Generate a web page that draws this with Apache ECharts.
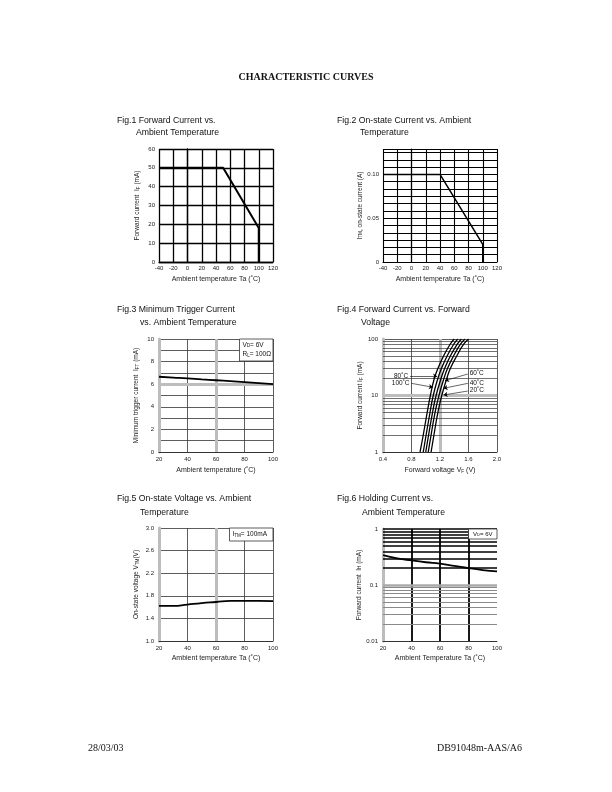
<!DOCTYPE html>
<html>
<head>
<meta charset="utf-8">
<script src="https://cdn.jsdelivr.net/npm/echarts@6/dist/echarts.min.js"></script>
<style>
  html, body { margin: 0; padding: 0; background: #fff; }
  #page { width: 612px; height: 792px; }
</style>
</head>
<body>
<div id="page"></div>
<script>
// Fig.1 forward current vs ambient temperature
const fig1Ta = [-40, 50, 100, 100];
const fig1If = [50, 50, 18, 0];

// Fig.2 on-state current vs ambient temperature
const fig2Ta = [-40, 40, 100, 100];
const fig2Itm = [0.10, 0.10, 0.02, 0];

// Fig.3 minimum trigger current
const fig3Ta = [20, 30, 40, 50, 60, 70, 80, 90, 100];
const fig3Ift = [6.66, 6.59, 6.52, 6.43, 6.35, 6.27, 6.19, 6.10, 6.0];

// Fig.4 forward current vs forward voltage (one list of VF per temperature)
const fig4If = [1, 2, 5, 10, 20, 30, 50, 80, 100];
const fig4Vf100 = [0.92, 0.965, 1.02, 1.065, 1.12, 1.17, 1.25, 1.34, 1.40];
const fig4Vf80 = [0.965, 1.005, 1.06, 1.105, 1.17, 1.22, 1.30, 1.39, 1.45];
const fig4Vf60 = [1.0, 1.04, 1.095, 1.145, 1.215, 1.265, 1.345, 1.44, 1.50];
const fig4Vf40 = [1.035, 1.075, 1.13, 1.185, 1.255, 1.305, 1.39, 1.485, 1.55];
const fig4Vf20 = [1.075, 1.115, 1.17, 1.225, 1.295, 1.345, 1.435, 1.53, 1.60];

// Fig.5 on-state voltage
const fig5Ta = [20, 30, 40, 50, 60, 70, 80, 90, 100];
const fig5Vtm = [1.62, 1.62, 1.645, 1.67, 1.69, 1.71, 1.71, 1.71, 1.705];

// Fig.6 holding current
const fig6Ta = [20, 30, 40, 50, 60, 70, 80, 90, 100];
const fig6Ih = [0.34, 0.30, 0.275, 0.255, 0.24, 0.22, 0.20, 0.185, 0.175];

// log grid values
const decadeSteps = [2, 3, 4, 5, 6, 7, 8, 9];

const FONT = '"Liberation Sans", Arial, sans-serif';
const SERIF = '"Liberation Serif", "Times New Roman", serif';
const GRAY = '#bdbdbd';
const DARK = '#333';

const zip = (xs, ys) => xs.map((x, i) => [x, ys[i]]);
const vLine = (v, color, width) => ({ xAxis: v, lineStyle: { color: color, width: width, type: 'solid' } });
const hLine = (v, color, width) => ({ yAxis: v, lineStyle: { color: color, width: width, type: 'solid' } });

const subRich = { s: { fontSize: 4.6, fontFamily: FONT, verticalAlign: 'bottom', padding: [0, 0, 0, 0] } };

const labelStyle = (extra) => Object.assign({ fontSize: 6, color: '#222', fontFamily: FONT }, extra);
const xName = (text, gap) => ({
  name: text, nameLocation: 'middle', nameGap: gap,
  nameTextStyle: { fontSize: 7, color: '#222', fontFamily: FONT, rich: subRich }
});
const yName = (text, gap) => ({
  name: text, nameLocation: 'middle', nameGap: gap,
  nameTextStyle: { fontSize: 6.5, color: '#222', fontFamily: FONT, rich: subRich }
});

function gridSeries(idx, lines) {
  return {
    type: 'line', xAxisIndex: idx, yAxisIndex: idx, data: [], z: 1, silent: true,
    markLine: { silent: true, symbol: 'none', animation: false, label: { show: false }, data: lines }
  };
}
function curve(idx, data, width) {
  return {
    type: 'line', xAxisIndex: idx, yAxisIndex: idx, data: data, z: 5,
    showSymbol: false, smooth: false, silent: true,
    lineStyle: { color: '#000', width: width }
  };
}

const grids = [
  { left: 159, top: 149, width: 114, height: 113 },
  { left: 383, top: 149, width: 114, height: 113 },
  { left: 159, top: 339, width: 114, height: 113 },
  { left: 383, top: 339, width: 114, height: 113 },
  { left: 159, top: 528, width: 114, height: 113 },
  { left: 383, top: 529, width: 114, height: 112 }
];

const xAxes = [
  Object.assign({
    gridIndex: 0, type: 'value', min: -40, max: 120, interval: 20,
    axisLine: { lineStyle: { color: '#000', width: 1.3 } }, axisTick: { show: false },
    splitLine: { lineStyle: { color: '#000', width: 1.3 } },
    axisLabel: labelStyle({ margin: 3 })
  }, xName('Ambient temperature Ta (˚C)', 14)),
  Object.assign({
    gridIndex: 1, type: 'value', min: -40, max: 120, interval: 20,
    axisLine: { lineStyle: { color: '#000', width: 1.2 } }, axisTick: { show: false },
    splitLine: { lineStyle: { color: '#000', width: 1.1 } },
    axisLabel: labelStyle({ margin: 3 })
  }, xName('Ambient temperature Ta (˚C)', 14)),
  Object.assign({
    gridIndex: 2, type: 'value', min: 20, max: 100, interval: 20,
    axisLine: { lineStyle: { color: DARK, width: 1 } }, axisTick: { show: false },
    splitLine: { showMinLine: false, lineStyle: { color: DARK, width: 0.8 } },
    axisLabel: labelStyle({ margin: 4 })
  }, xName('Ambient temperature (˚C)', 15)),
  Object.assign({
    gridIndex: 3, type: 'value', min: 0.4, max: 2.0, interval: 0.4,
    axisLine: { lineStyle: { color: DARK, width: 1 } }, axisTick: { show: false },
    splitLine: { showMinLine: false, lineStyle: { color: DARK, width: 0.8 } },
    axisLabel: labelStyle({ margin: 4, formatter: v => v.toFixed(1) })
  }, xName('Forward voltage V{s|F} (V)', 15)),
  Object.assign({
    gridIndex: 4, type: 'value', min: 20, max: 100, interval: 20,
    axisLine: { lineStyle: { color: DARK, width: 1 } }, axisTick: { show: false },
    splitLine: { showMinLine: false, lineStyle: { color: DARK, width: 0.8 } },
    axisLabel: labelStyle({ margin: 4 })
  }, xName('Ambient temperature Ta (˚C)', 14)),
  Object.assign({
    gridIndex: 5, type: 'value', min: 20, max: 100, interval: 20,
    axisLine: { lineStyle: { color: DARK, width: 1 } }, axisTick: { show: false },
    splitLine: { showMinLine: false, showMaxLine: false, lineStyle: { color: '#000', width: 1.8 } },
    axisLabel: labelStyle({ margin: 4 })
  }, xName('Ambient Temperature Ta (˚C)', 14))
];

const yAxes = [
  Object.assign({
    gridIndex: 0, type: 'value', min: 0, max: 60, interval: 10,
    axisLine: { lineStyle: { color: '#000', width: 1.3 } }, axisTick: { show: false },
    splitLine: { lineStyle: { color: '#000', width: 1.3 } },
    axisLabel: labelStyle({ margin: 4 })
  }, yName('Forward current  I{s|F} (mA)', 18)),
  Object.assign({
    gridIndex: 1, type: 'value', min: 0, max: 0.129, interval: 0.1 / 12,
    axisLine: { lineStyle: { color: '#000', width: 1.2 } }, axisTick: { show: false },
    splitLine: { lineStyle: { color: '#000', width: 1.1 } },
    axisLabel: labelStyle({
      margin: 4,
      formatter: v => (Math.abs(v) < 1e-4 ? '0' : Math.abs(v - 0.05) < 1e-3 ? '0.05' : Math.abs(v - 0.1) < 1e-3 ? '0.10' : '')
    })
  }, yName('I{s|TM}, on-state current (A)', 18)),
  Object.assign({
    gridIndex: 2, type: 'value', min: 0, max: 10, interval: 1,
    axisLine: { lineStyle: { color: GRAY, width: 3 } }, axisTick: { show: false },
    splitLine: { showMinLine: false, lineStyle: { color: DARK, width: 0.8 } },
    axisLabel: labelStyle({ margin: 5, formatter: v => (v % 2 === 0 ? String(v) : '') })
  }, yName('Minimum trigger current  I{s|FT} (mA)', 19)),
  Object.assign({
    gridIndex: 3, type: 'log', logBase: 10, min: 1, max: 100,
    axisLine: { lineStyle: { color: GRAY, width: 3 } }, axisTick: { show: false },
    splitLine: { showMinLine: false, lineStyle: { color: DARK, width: 0.8 } },
    axisLabel: labelStyle({ margin: 5 })
  }, yName('Forward current I{s|F} (mA)', 17)),
  Object.assign({
    gridIndex: 4, type: 'value', min: 1.0, max: 3.0, interval: 0.4,
    axisLine: { lineStyle: { color: GRAY, width: 3 } }, axisTick: { show: false },
    splitLine: { showMinLine: false, lineStyle: { color: DARK, width: 0.8 } },
    axisLabel: labelStyle({ margin: 5, formatter: v => v.toFixed(1) })
  }, yName('On-state voltage V{s|TM}(V)', 19)),
  Object.assign({
    gridIndex: 5, type: 'log', logBase: 10, min: 0.01, max: 1,
    axisLine: { lineStyle: { color: GRAY, width: 3 } }, axisTick: { show: false },
    splitLine: { show: false },
    axisLabel: labelStyle({ margin: 5 })
  }, yName('Forward current  I{s|H} (mA)', 17))
];

// gridlines that differ from the axis default
const fig3Lines = [vLine(60, GRAY, 3), hLine(6, GRAY, 3)];
const fig4Lines = [vLine(1.2, GRAY, 3), hLine(10, GRAY, 3)]
  .concat(decadeSteps.map(v => hLine(v, DARK, 0.7)))
  .concat(decadeSteps.map(v => hLine(v * 10, DARK, 0.7)));
const fig5Lines = [vLine(60, GRAY, 3)];
const fig6Lines = [hLine(1, '#000', 1.5), hLine(0.1, '#aaa', 2.5)]
  .concat(decadeSteps.map(v => hLine(v / 100, '#8a8a8a', 1)))
  .concat(decadeSteps.map(v => hLine(v / 10, '#000', 1.6)));

// Fig.4 temperature call-outs (label, from, to in data units)
const fig4Notes = [
  ['80˚C', [0.78, 22], [1.16, 22]],
  ['100˚C', [0.80, 16.4], [1.10, 14]],
  ['60˚C', [1.59, 24], [1.27, 18.3]],
  ['40˚C', [1.59, 16.4], [1.25, 13.4]],
  ['20˚C', [1.59, 12], [1.25, 10.2]]
];

const fig4NoteSeries = {
  type: 'line', xAxisIndex: 3, yAxisIndex: 3, data: [], z: 6, silent: true,
  markLine: {
    silent: true, animation: false, symbol: ['none', 'arrow'], symbolSize: 4,
    lineStyle: { color: '#000', width: 0.6, type: 'solid' },
    label: { show: true, position: 'start', distance: 2, fontSize: 6.5, fontFamily: FONT, color: '#111' },
    data: fig4Notes.map(n => [
      { coord: n[1], label: { formatter: n[0] } },
      { coord: n[2] }
    ])
  }
};

const series = [
  curve(0, zip(fig1Ta, fig1If), 2),
  curve(1, zip(fig2Ta, fig2Itm), 1.5),
  gridSeries(2, fig3Lines),
  Object.assign(curve(2, zip(fig3Ta, fig3Ift), 1.8), { smooth: true }),
  gridSeries(3, fig4Lines),
  Object.assign(curve(3, zip(fig4Vf100, fig4If), 1.3), { smooth: true }),
  Object.assign(curve(3, zip(fig4Vf80, fig4If), 1.3), { smooth: true }),
  Object.assign(curve(3, zip(fig4Vf60, fig4If), 1.3), { smooth: true }),
  Object.assign(curve(3, zip(fig4Vf40, fig4If), 1.3), { smooth: true }),
  Object.assign(curve(3, zip(fig4Vf20, fig4If), 1.3), { smooth: true }),
  fig4NoteSeries,
  gridSeries(4, fig5Lines),
  Object.assign(curve(4, zip(fig5Ta, fig5Vtm), 1.8), { smooth: true }),
  gridSeries(5, fig6Lines),
  Object.assign(curve(5, zip(fig6Ta, fig6Ih), 1.8), { smooth: true })
];

// page texts
function text(x, y, str, size, opts) {
  const o = opts || {};
  return {
    type: 'text', x: x, y: y, z: 100, silent: true,
    style: {
      text: str, fontSize: size, fontFamily: o.family || FONT, fontWeight: o.weight || 'normal',
      fill: o.fill || '#111',
      textAlign: o.align || 'left', align: o.align || 'left',
      textVerticalAlign: 'middle', verticalAlign: 'middle',
      rich: { s: { fontSize: size * 0.7, fontFamily: FONT, verticalAlign: 'bottom' } }
    }
  };
}
function box(x, y, w, h) {
  return {
    type: 'rect', z: 99, silent: true,
    shape: { x: x, y: y, width: w, height: h },
    style: { fill: '#fff', stroke: DARK, lineWidth: 0.8 }
  };
}

const capSize = 8.7;
const graphics = [
  text(306, 77, 'CHARACTERISTIC CURVES', 10, { family: SERIF, weight: 'bold', align: 'center' }),
  text(117, 121, 'Fig.1 Forward Current vs.', capSize),
  text(136, 132.5, 'Ambient Temperature', capSize),
  text(337, 121, 'Fig.2 On-state Current vs. Ambient', capSize),
  text(360, 132.5, 'Temperature', capSize),
  text(117, 310, 'Fig.3 Minimum Trigger Current', capSize),
  text(140, 322.5, 'vs. Ambient Temperature', capSize),
  text(337, 310, 'Fig.4 Forward Current vs. Forward', capSize),
  text(361, 322.5, 'Voltage', capSize),
  text(117, 499, 'Fig.5 On-state Voltage vs. Ambient', capSize),
  text(140, 512.5, 'Temperature', capSize),
  text(337, 499, 'Fig.6 Holding Current vs.', capSize),
  text(362, 512.5, 'Ambient Temperature', capSize),
  box(239.5, 339, 33.5, 22),
  text(242.5, 345, 'V{s|D}= 6V', 6.5),
  text(242.5, 354.5, 'R{s|L}= 100Ω', 6.5),
  box(229.5, 528, 43.5, 13),
  text(232.5, 534.5, 'I{s|TM}= 100mA', 6.5),
  box(468.5, 529, 28.5, 10),
  text(473, 534, 'V{s|D}= 6V', 6),
  text(88, 748, '28/03/03', 10, { family: SERIF }),
  text(522, 748, 'DB91048m-AAS/A6', 10, { family: SERIF, align: 'right' })
];

const chart = echarts.init(document.getElementById('page'), null, { renderer: 'canvas' });
chart.setOption({
  animation: false,
  backgroundColor: '#fff',
  grid: grids,
  xAxis: xAxes,
  yAxis: yAxes,
  series: series,
  graphic: graphics
});
</script>
</body>
</html>
